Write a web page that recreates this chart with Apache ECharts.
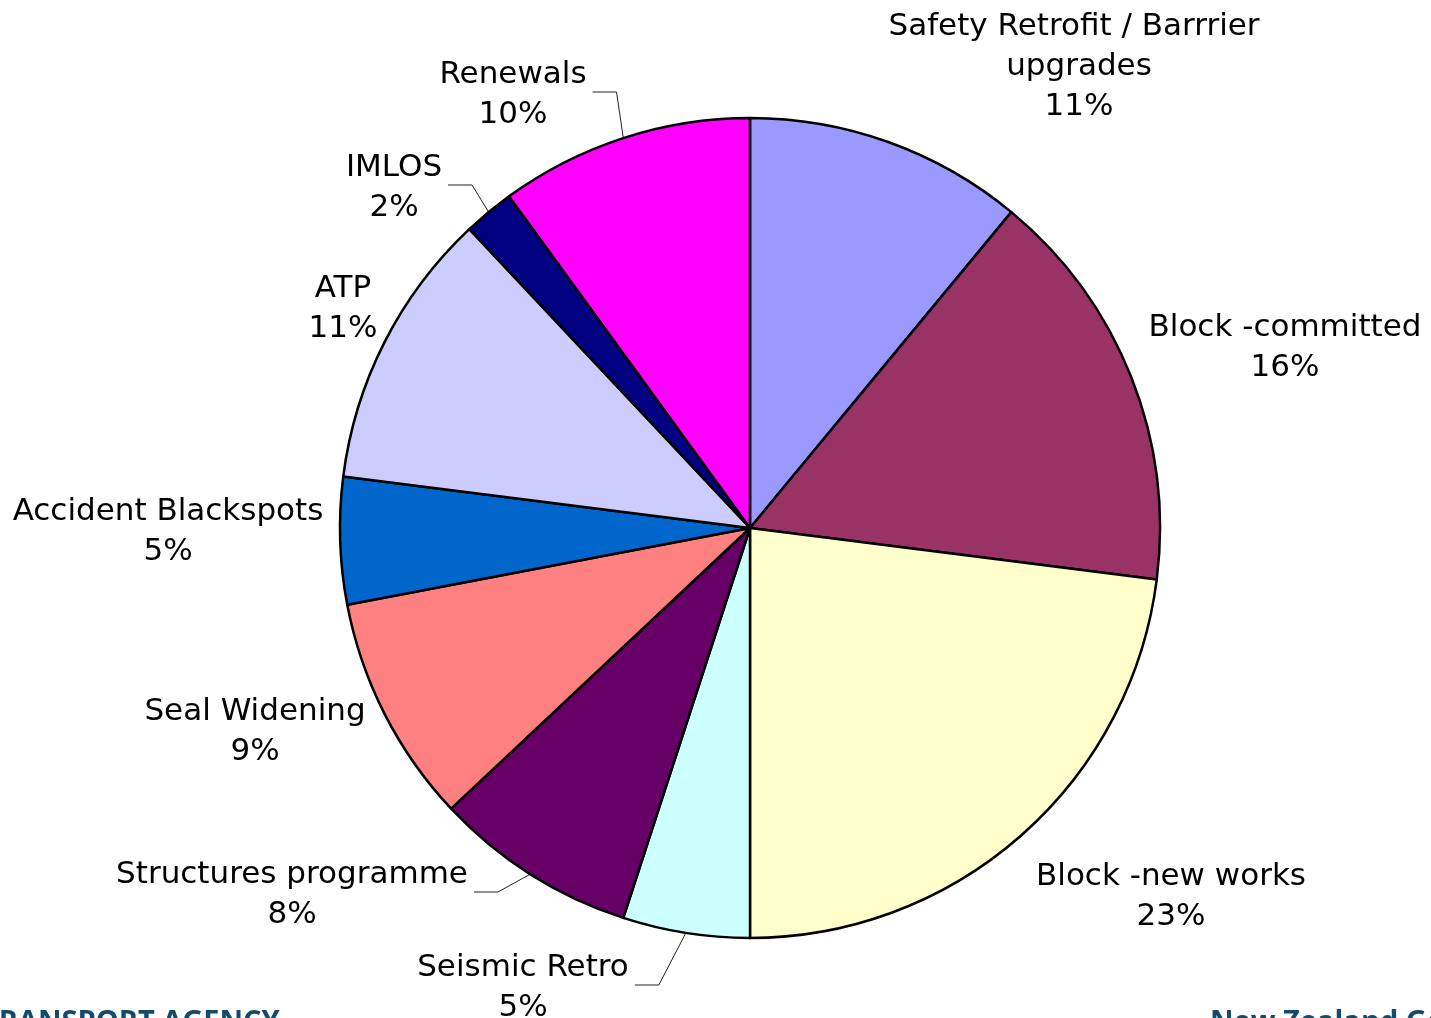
<!DOCTYPE html>
<html><head><meta charset="utf-8">
<script src="https://cdn.jsdelivr.net/npm/echarts@6/dist/echarts.min.js"></script>
<style>html,body{margin:0;padding:0;background:#fff}#chart{width:1431px;height:1018px}</style>
</head><body><div id="chart"></div>
<script>
// ---- data ----
const categories = ['Safety Retrofit / Barrrier upgrades', 'Block -committed', 'Block -new works', 'Seismic Retro',
  'Structures programme', 'Seal Widening', 'Accident Blackspots', 'ATP', 'IMLOS', 'Renewals'];
const shares = [11, 16, 23, 5, 8, 9, 5, 11, 2, 10];

// ---- styling / layout (not data) ----
const colors = ['#9999FF', '#993366', '#FFFFCC', '#CCFFFF', '#660066', '#FF8080', '#0066CC', '#CCCCFF', '#000080', '#FF00FF'];
const withLeader = [false, false, false, true, true, false, false, false, true, true];
const labelAnchor = [[1079, 67], [1285, 348], [1171, 897], [523, 988], [292, 895], [255, 732], [168, 532], [343, 309], [394, 188], [513, 95]];

const chart = echarts.init(document.getElementById('chart'), null, {renderer: 'canvas'});

const seriesData = categories.map((name, i) => {
  const item = {
    name: name,
    value: shares[i],
    itemStyle: {color: colors[i]},
    labelLine: {show: withLeader[i]}
  };
  if (i === 0) item.label = {width: 420, overflow: 'break'};
  return item;
});

chart.setOption({
  animation: false,
  backgroundColor: '#ffffff',
  series: [{
    type: 'pie',
    center: [750, 528],
    radius: 410,
    startAngle: 90,
    clockwise: true,
    avoidLabelOverlap: false,
    minShowLabelAngle: 0,
    emphasis: {disabled: true},
    itemStyle: {borderColor: '#000000', borderWidth: 2.5},
    label: {
      show: true,
      position: 'outside',
      formatter: '{b}\n{d}%',
      fontFamily: 'DejaVu Sans',
      fontSize: 31,
      lineHeight: 40,
      color: '#000000',
      align: 'center'
    },
    labelLine: {show: true, lineStyle: {color: '#222222', width: 1}},
    labelLayout: function (params) {
      const i = params.dataIndex;
      const a = labelAnchor[i];
      const out = {x: a[0], y: a[1], align: 'center', verticalAlign: 'middle'};
      if (withLeader[i] && params.labelLinePoints) {
        const start = params.labelLinePoints[0];
        const right = a[0] + params.labelRect.width / 2;
        const end = [right + 6, a[1] - 3];
        const elbow = [right + 30, a[1] - 3];
        out.labelLinePoints = [start, elbow, end];
      }
      return out;
    },
    data: seriesData
  }],
  graphic: [
    {type: 'text', left: -18, top: 1008, silent: true,
     style: {text: 'TRANSPORT AGENCY', font: 'bold 29px "Open Sans"', fill: '#134b6b'}},
    {type: 'text', left: 1210, top: 1008, silent: true,
     style: {text: 'New Zealand Government', font: 'bold 29px "Open Sans"', fill: '#134b6b'}}
  ]
});
</script>
</body></html>
